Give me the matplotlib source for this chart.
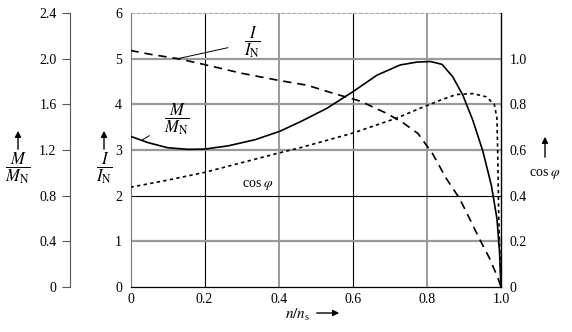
import matplotlib
matplotlib.use('Agg')
import matplotlib.pyplot as plt
import numpy as np

plt.rcParams['font.family'] = ['Liberation Serif', 'DejaVu Serif']
plt.rcParams['mathtext.fontset'] = 'stix'

# current I/I_N (dashed)
x_i = [0, 0.05, 0.128, 0.2, 0.3, 0.403, 0.476, 0.548, 0.62, 0.692, 0.735, 0.776,
       0.816, 0.852, 0.888, 0.915, 0.942, 0.969, 0.991, 1.0]
i_rel = [5.18, 5.1, 5.0, 4.87, 4.68, 4.52, 4.42, 4.24, 4.07, 3.8, 3.6, 3.36,
         2.91, 2.38, 1.94, 1.5, 1.05, 0.63, 0.21, 0.0]

# torque M/M_N (solid)
x_m = [0, 0.047, 0.1, 0.155, 0.2, 0.263, 0.336, 0.403, 0.46, 0.53, 0.6, 0.665, 0.728,
       0.773, 0.81, 0.841, 0.87, 0.897, 0.924, 0.951, 0.974, 0.989, 0.996, 1.0]
m_rel = [1.32, 1.265, 1.22, 1.206, 1.208, 1.236, 1.29, 1.364, 1.45, 1.565, 1.71, 1.855, 1.945,
         1.97, 1.975, 1.95, 1.84, 1.68, 1.46, 1.19, 0.89, 0.6, 0.31, 0.0]

# power factor cos phi (dotted)
x_c = [0, 0.1, 0.2, 0.403, 0.458, 0.507, 0.6, 0.719, 0.782, 0.836, 0.879, 0.924,
       0.96, 0.982, 0.989, 0.991, 0.994, 1.0]
cos_phi = [0.437, 0.468, 0.502, 0.588, 0.61, 0.632, 0.674, 0.74, 0.783, 0.818, 0.843, 0.847,
           0.833, 0.8, 0.74, 0.6, 0.3, 0.0]

x_ticks = [0, 0.2, 0.4, 0.6, 0.8, 1.0]
i_ticks = [0, 1, 2, 3, 4, 5, 6]
m_ticks = [0, 0.4, 0.8, 1.2, 1.6, 2.0, 2.4]
c_ticks = [0, 0.2, 0.4, 0.6, 0.8, 1.0]

W, H = 572, 332
fig = plt.figure(figsize=(W / 100, H / 100), dpi=100)
ax = fig.add_axes([130.5 / W, 1 - 287 / H, 370.5 / W, 274 / H])
ax.set_xlim(0, 1)
ax.set_ylim(0, 6)

# grid
for k, v in enumerate(x_ticks[1:-1]):
    black = k % 2 == 0
    ax.axvline(v, color='black' if black else '#9a9a9a', lw=0.8 if black else 1.4, zorder=1)
for v in i_ticks[1:-1]:
    black = v == 2
    ax.axhline(v, color='black' if black else '#9a9a9a', lw=0.8 if black else 1.6, zorder=1)

ax.set_xticks(x_ticks)
ax.set_xticklabels(['0', '0.2', '0.4', '0.6', '0.8', '1.0'])
ax.set_yticks(i_ticks)
ax.tick_params(axis='both', length=0, labelsize=10, pad=4)
ax.tick_params(axis='y', pad=6)
ax.spines['right'].set_visible(False)
ax.spines['top'].set_color('#aaaaaa')
ax.spines['top'].set_linestyle((0, (3, 2)))
ax.spines['top'].set_linewidth(0.8)
ax.spines['left'].set_color('#777777')
ax.spines['bottom'].set_linewidth(0.9)

ax.plot(x_i, i_rel, color='black', lw=1.2, ls=(0, (5, 3.5)), zorder=3)

# torque axis (outer left)
ax_m = ax.twinx()
ax_m.set_ylim(0, 2.4)
ax_m.yaxis.set_ticks_position('left')
ax_m.spines['left'].set_position(('axes', -0.162))
ax_m.spines['left'].set_color('#555555')
for s in ['right', 'top', 'bottom']:
    ax_m.spines[s].set_visible(False)
ax_m.set_yticks(m_ticks)
ax_m.set_yticklabels(['0', '0.4', '0.8', '1.2', '1.6', '2.0', '2.4'])
ax_m.tick_params(axis='y', direction='out', length=6, width=0.8, labelsize=10, pad=4, color='#555555')
ax_m.plot(x_m, m_rel, color='black', lw=1.2, zorder=3)

# cos phi axis (right)
ax_c = ax.twinx()
ax_c.set_ylim(0, 1.2)
for s in ['left', 'top', 'bottom']:
    ax_c.spines[s].set_visible(False)
ax_c.spines['right'].set_linewidth(1.0)
ax_c.set_yticks(c_ticks)
ax_c.set_yticklabels(['0', '0.2', '0.4', '0.6', '0.8', '1.0'])
ax_c.tick_params(axis='y', length=0, labelsize=10, pad=6)
ax_c.plot(x_c, cos_phi, color='black', lw=1.2, ls=(0, (2, 2)), zorder=3)

# curve labels
ax.annotate(r'$\dfrac{I}{I_\mathrm{N}}$', xy=(0.128, np.interp(0.128, x_i, i_rel)),
            xytext=(0.33, 5.36), ha='center', va='center', fontsize=12,
            arrowprops=dict(arrowstyle='-', lw=0.7, color='black', shrinkB=0, shrinkA=10))
ax_m.annotate(r'$\dfrac{M}{M_\mathrm{N}}$', xy=(0.03, np.interp(0.03, x_m, m_rel)),
              xytext=(0.125, 1.47), ha='center', va='center', fontsize=12,
              arrowprops=dict(arrowstyle='-', lw=0.7, color='black', shrinkB=0, shrinkA=10))
ax_c.text(0.345, 0.446, r'cos $\varphi$', ha='center', va='center', fontsize=10)

# axis titles with arrows
def up_label(xp, text):
    fig.text(xp / W, 1 - 168 / H, text, ha='center', va='center', fontsize=12)
    fig.add_artist(matplotlib.patches.FancyArrowPatch(
        (xp / W, 1 - 152 / H), (xp / W, 1 - 128 / H), transform=fig.transFigure,
        arrowstyle='-|>', mutation_scale=9, lw=1.0, color='black'))

up_label(18, r'$\dfrac{M}{M_\mathrm{N}}$')
up_label(104, r'$\dfrac{I}{I_\mathrm{N}}$')

fig.text(545 / W, 1 - 174 / H, r'cos $\varphi$', ha='center', va='center', fontsize=10)
fig.add_artist(matplotlib.patches.FancyArrowPatch(
    (545 / W, 1 - 160 / H), (545 / W, 1 - 134 / H), transform=fig.transFigure,
    arrowstyle='-|>', mutation_scale=9, lw=1.0, color='black'))

fig.text(298 / W, 1 - 315 / H, r'$n/n_\mathrm{s}$', ha='center', va='center', fontsize=11)
fig.add_artist(matplotlib.patches.FancyArrowPatch(
    (314 / W, 1 - 313 / H), (342 / W, 1 - 313 / H), transform=fig.transFigure,
    arrowstyle='-|>', mutation_scale=9, lw=1.0, color='black'))

fig.savefig('out.png', dpi=100, facecolor='white')
